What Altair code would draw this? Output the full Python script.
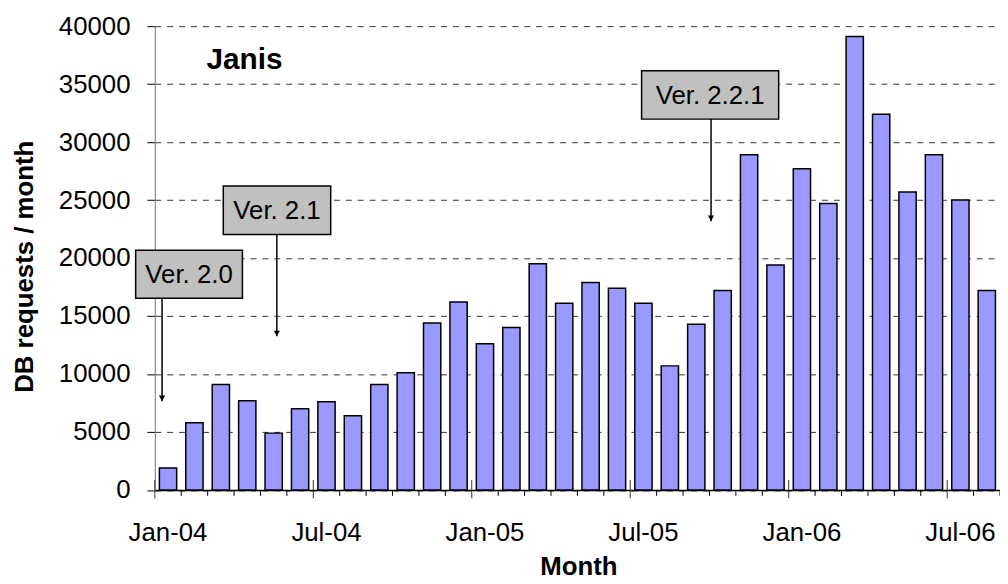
import altair as alt
import pandas as pd

# ---------------- data ----------------
months = ["Jan-04", "Feb-04", "Mar-04", "Apr-04", "May-04", "Jun-04",
          "Jul-04", "Aug-04", "Sep-04", "Oct-04", "Nov-04", "Dec-04",
          "Jan-05", "Feb-05", "Mar-05", "Apr-05", "May-05", "Jun-05",
          "Jul-05", "Aug-05", "Sep-05", "Oct-05", "Nov-05", "Dec-05",
          "Jan-06", "Feb-06", "Mar-06", "Apr-06", "May-06", "Jun-06",
          "Jul-06", "Aug-06"]
requests = [1900, 5800, 9100, 7700, 4900, 7000, 7600, 6400, 9100, 10100, 14400, 16200,
            12600, 14000, 19500, 16100, 17900, 17400, 16100, 10700, 14300, 17200, 28900, 19400,
            27700, 24700, 39100, 32400, 25700, 28900, 25000, 17200]
y_ticks = [0, 5000, 10000, 15000, 20000, 25000, 30000, 35000, 40000]

# annotations (x in month-index units, y in requests)
ann_label = ["Ver. 2.0", "Ver. 2.1", "Ver. 2.2.1"]
ann_box_x1 = [-0.725, 2.592, 18.43]
ann_box_x2 = [3.317, 6.659, 23.62]
ann_box_y1 = [16531, 22032, 31983]
ann_box_y2 = [20663, 26225, 36150]
ann_arrow_x = [0.274, 4.62, 21.06]
ann_arrow_to = [7658, 13245, 23170]

FONT = "Liberation Sans"
W, H = 852, 467.5
N = len(months)

df = pd.DataFrame({"month": months, "requests": requests})
ticks = pd.DataFrame({"idx": list(range(N + 1))})
ticks["major"] = ticks["idx"] % 6 == 0
ann = pd.DataFrame({
    "label": ann_label,
    "x1": ann_box_x1, "x2": ann_box_x2,
    "y1": ann_box_y1, "y2": ann_box_y2,
    "ax": ann_arrow_x, "ato": ann_arrow_to,
})
ann["cx"] = (ann["x1"] + ann["x2"]) / 2
ann["cy"] = (ann["y1"] + ann["y2"]) / 2

xq = alt.Scale(domain=[0, N], nice=False, zero=False)
yq = alt.Scale(domain=[0, 40000], nice=False)

label_expr = ("(slice(datum.label,0,3)=='Jan' || slice(datum.label,0,3)=='Jul') "
              "? datum.label : ''")

bars = alt.Chart(df).mark_bar(fill="#9999FF", stroke="black", strokeWidth=1.5).encode(
    x=alt.X("month:O", sort=months,
            scale=alt.Scale(paddingInner=0.346, paddingOuter=0.173),
            axis=alt.Axis(title="Month", labelAngle=0, ticks=False, labelExpr=label_expr,
                          labelOverlap=False, labelFont=FONT, labelFontSize=26,
                          labelColor="black", labelBaseline="alphabetic", labelPadding=51,
                          domainColor="black", domainWidth=1.5, grid=False,
                          titleFont=FONT, titleFontSize=26, titleFontWeight="bold",
                          titleColor="black", titleBaseline="alphabetic",
                          titleX=427, titleY=85)),
    y=alt.Y("requests:Q", scale=yq,
            axis=alt.Axis(values=y_ticks, format="d", title="DB requests / month",
                          tickSize=8, tickColor="black", labelPadding=17,
                          labelFont=FONT, labelFontSize=26, labelColor="black",
                          grid=True, gridDash=[6, 6], gridColor="#333333", gridWidth=1,
                          domainColor="#777777", domainWidth=1,
                          titleFont=FONT, titleFontSize=26, titleFontWeight="bold",
                          titleColor="black", titleAngle=-90, titleAlign="center",
                          titleBaseline="alphabetic", titleX=-123.7, titleY=242)),
)

minor_ticks = alt.Chart(ticks).transform_filter("!datum.major").mark_rule(
    color="black", strokeWidth=1).encode(
    x=alt.X("idx:Q", scale=xq, axis=None),
    y=alt.value(H), y2=alt.value(H + 6))

major_ticks = alt.Chart(ticks).transform_filter("datum.major").mark_rule(
    color="#333333", strokeWidth=1).encode(
    x=alt.X("idx:Q", scale=xq, axis=None),
    y=alt.value(H - 10), y2=alt.value(H + 8.5))

boxes = alt.Chart(ann).mark_rect(fill="#C0C0C0", stroke="black", strokeWidth=1.5).encode(
    x=alt.X("x1:Q", scale=xq, axis=None), x2="x2:Q",
    y=alt.Y("y1:Q", scale=yq, axis=None), y2="y2:Q")

arrows = alt.Chart(ann).mark_rule(color="black", strokeWidth=1.5).encode(
    x=alt.X("ax:Q", scale=xq, axis=None),
    y=alt.Y("y1:Q", scale=yq, axis=None), y2="ato:Q")

heads = alt.Chart(ann).mark_point(shape="triangle-down", filled=True, color="black",
                                  size=40, opacity=1, yOffset=-3).encode(
    x=alt.X("ax:Q", scale=xq, axis=None),
    y=alt.Y("ato:Q", scale=yq, axis=None))

labels = alt.Chart(ann).mark_text(font=FONT, fontSize=26, color="black",
                                  align="center", baseline="middle", dy=1).encode(
    x=alt.X("cx:Q", scale=xq, axis=None),
    y=alt.Y("cy:Q", scale=yq, axis=None),
    text="label:N")

title_df = pd.DataFrame({"t": ["Janis"]})
janis = alt.Chart(title_df).mark_text(font=FONT, fontSize=30, fontWeight="bold",
                                      color="black", align="left",
                                      baseline="alphabetic").encode(
    x=alt.value(52), y=alt.value(42.7), text="t:N")

chart = alt.layer(bars, minor_ticks, major_ticks, boxes, arrows, heads, labels, janis
                  ).resolve_scale(x="independent", y="independent").properties(
    width=W, height=H,
    autosize=alt.AutoSizeParams(type="none"),
    padding={"left": 148, "top": 16, "right": 0, "bottom": 92},
    background="white",
).configure_view(stroke=None)

chart.save("out.html", embed_options={"renderer": "svg", "actions": False})
